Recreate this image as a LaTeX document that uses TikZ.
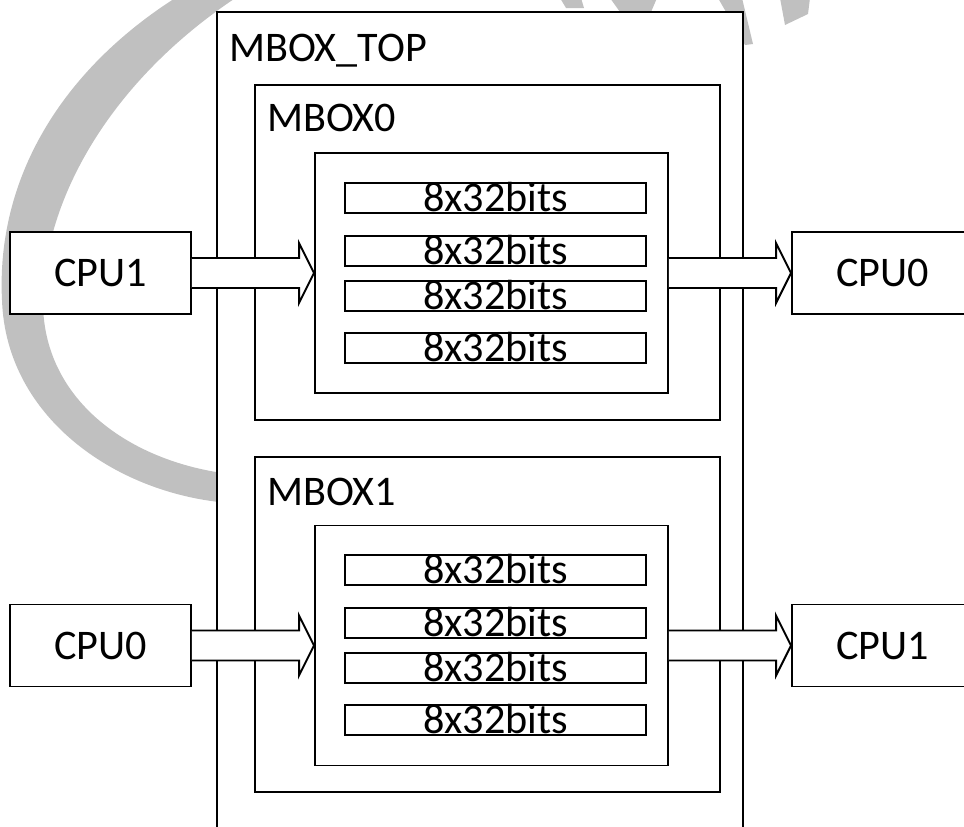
\documentclass[tikz,border=0pt]{standalone}
\usepackage{fontspec}
\setmainfont{Carlito}
\usepackage{xcolor}
\usepackage{tikz}
\usetikzlibrary{calc}
\definecolor{wmark}{RGB}{192,192,192}
\newcommand{\px}{0.02cm}
\tikzset{
    mbox/.style={font=\fontsize{24}{28}\selectfont},
    mbox frame/.style={draw, fill=white, line width=1.1pt, inner sep=0pt},
    mbox label/.style={anchor=base west, inner sep=0pt},
    mbox arrow/.style={draw, fill=white, line width=1.1pt, line join=miter},
}
% block arrow from the east side of #1 to the west side of #2
\newcommand{\blockarrow}[2]{%
    \draw[mbox arrow] ($(#1.east)+(0,-15)$) -- ($(#2.west)+(-15,-15)$)
        -- ($(#2.west)+(-15,-30)$) -- (#2.west) -- ($(#2.west)+(-15,30)$)
        -- ($(#2.west)+(-15,15)$) -- ($(#1.east)+(0,15)$);}

\begin{document}
\begin{tikzpicture}[
    mbox, x=\px, y=-\px,
    topbox/.style={mbox frame, minimum width=526*\px, minimum height=830*\px},
    boxframe/.style={mbox frame, minimum width=465*\px, minimum height=335*\px},
    fifo/.style={mbox frame, minimum width=353*\px, minimum height=240*\px},
    row/.style={mbox frame, minimum width=301*\px, minimum height=30*\px},
    bits/.style={anchor=base, inner sep=0pt},
    cpu/.style={mbox frame, minimum width=181*\px, minimum height=82*\px}
  ]
    \useasboundingbox (0,0) rectangle (964,826);
    \clip (0,0) rectangle (964,826);

    % watermark
    \fill[wmark] (180,-5) .. controls (60,70) and (-4,180) .. (2,300)
        .. controls (6,420) and (120,495) .. (230,503) -- (230,474)
        .. controls (130,462) and (42,400) .. (43,300)
        .. controls (44,200) and (110,80) .. (240,-5) -- cycle;
    \fill[wmark] (560,-2) -- (581,-2) -- (584,8) -- (566,8) -- cycle;
    \fill[wmark] (610,-2) -- (657,-2) -- (651,12) -- (620,12) -- cycle;
    \fill[wmark] (718,-2) -- (742,-2) -- (753,44) -- (745,45) -- cycle;
    \fill[wmark] (780,-2) -- (810,-2) -- (808,14) -- (785,25) -- cycle;

    \node[topbox] (top) at (480,427) {};
    \node[mbox label] at (229,61) {MBOX\_TOP};

    \node[boxframe] (mbox0) at (487.5,252.5) {};
    \node[mbox label] at (267,131.5) {MBOX0};
    \node[boxframe] (mbox1) at (487.5,624.5) {};
    \node[mbox label] at (267,505) {MBOX1};

    \node[fifo] (fifo0) at (491.5,273) {};
    \node[fifo] (fifo1) at (491.5,645.5) {};

    \foreach \y [count=\i] in {198,251,296,348} {
      \node[row] (rowa\i) at (495.5,\y) {};
      \node[bits] at ([yshift=1.3pt]rowa\i.south) {8x32bits};
    }
    \foreach \y [count=\i] in {570,623,668,720} {
      \node[row] (rowb\i) at (495.5,\y) {};
      \node[bits] at ([yshift=1.3pt]rowb\i.south) {8x32bits};
    }

    \node[cpu] (cpua) at (100.5,273) {CPU1};
    \node[cpu] (cpub) at (882.5,273) {CPU0};
    \node[cpu] (cpuc) at (100.5,645.5) {CPU0};
    \node[cpu] (cpud) at (882.5,645.5) {CPU1};

    \blockarrow{cpua}{fifo0}
    \blockarrow{fifo0}{cpub}
    \blockarrow{cpuc}{fifo1}
    \blockarrow{fifo1}{cpud}
\end{tikzpicture}
\end{document}
